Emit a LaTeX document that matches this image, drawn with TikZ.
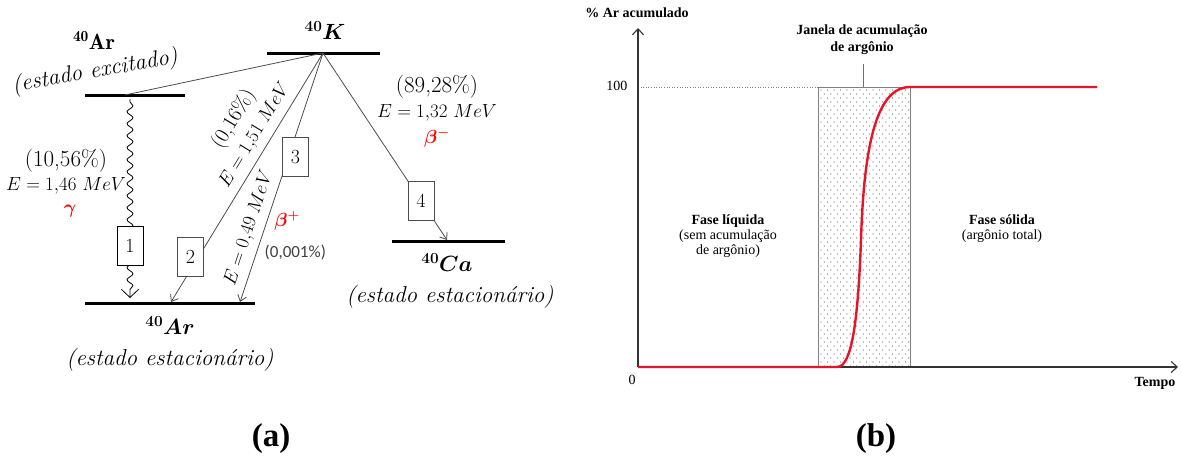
\documentclass[tikz,border=0pt]{standalone}
\usepackage{fix-cm}
\usepackage{fontspec}
\usepackage{amsmath}
\usetikzlibrary{arrows.meta, decorations.pathmorphing}
\newfontfamily\chartfont{Liberation Serif}
\newfontfamily\smallsans{Carlito}
\definecolor{curvered}{RGB}{230,20,40}
\definecolor{tickblue}{RGB}{68,114,196}

\begin{document}
\begin{tikzpicture}[x=1pt, y=-1pt, >={Straight Barb[length=6pt, width=9pt]}, line width=0.8pt,
  level/.style={line width=3pt},
  decay/.style={draw=black!70, ->},
  numbox/.style={draw, fill=white, line width=0.6pt, minimum width=26pt, minimum height=39pt,
    inner sep=0pt, font=\fontsize{20}{20}\selectfont},
  lbl/.style={font=\fontsize{19}{21}\selectfont},
  txt/.style={font=\fontsize{23}{25}\selectfont},
  big/.style={font=\fontsize{22}{24}\selectfont},
  chart/.style={font=\chartfont\fontsize{14}{15}\selectfont},
  chartb/.style={font=\chartfont\bfseries\fontsize{14}{17}\selectfont},
  axis/.style={draw=black!80, line width=1.1pt, -{Straight Barb[length=6pt, width=11pt]}}]
  \useasboundingbox (0,0) rectangle (1182,455);

  % (a) niveis de energia
  \draw[level] (85,95) -- (185,95);
  \draw[level] (267,53) -- (380,53);
  \draw[level] (85,303) -- (255,303);
  \draw[level] (392,241) -- (505,241);
  \coordinate (kv) at (323,53);
  \coordinate (arx) at (125,95);
  \coordinate (arw) at (130,99);
  \coordinate (t1) at (130,298);
  \coordinate (t2) at (171,302);
  \coordinate (t3) at (240,302);
  \coordinate (t4) at (447,240);

  \node[big] (arxlab) at (94,40) {$\mathbf{^{40}Ar}$};
  \node[txt, rotate=10] (arxest) at (95,72) {\textit{(estado excitado)}};
  \node[big] (klab) at (325,31) {$\boldsymbol{^{40}K}$};
  \node[big] (arlab) at (170,326) {$\boldsymbol{^{40}Ar}$};
  \node[txt] (arest) at (170,360) {\textit{(estado estacionário)}};
  \node[big] (calab) at (447,263) {$\boldsymbol{^{40}Ca}$};
  \node[txt] (caest) at (450,297) {\textit{(estado estacionário)}};

  % decaimentos
  \draw[decay, -] (kv) -- (arx);
  \draw[decorate, decoration={snake, amplitude=3pt, segment length=12pt, pre length=3pt, post length=7pt},
    -{Straight Barb[length=8pt, width=17pt]}] (arw) -- (t1) node[numbox, pos=0.74] (n1) {1};
  \draw[decay] (kv) -- (t2) node[numbox, pos=0.82, xshift=-8pt] (n2) {2};
  \draw[decay] (kv) -- (t3) node[numbox, pos=0.416, xshift=7pt] (n3) {3};
  \draw[decay] (kv) -- (t4) node[numbox, pos=0.79] (n4) {4};

  \node[txt] (p1) at (66,161) {(10,56\%)};
  \node[lbl] (e1) at (66,186) {$E = 1{,}46\ MeV$};
  \node[lbl, text=red] (g1) at (70,211) {$\boldsymbol{\gamma}$};
  \node[font=\fontsize{21}{23}\selectfont, rotate=58.6] (p2) at (234,119) {(0,16\%)};
  \node[lbl, rotate=58.6] (e2) at (255,135) {$E = 1{,}51\ MeV$};
  \node[lbl, rotate=71.6] (e3) at (249,228) {$E = 0{,}49\ MeV$};
  \node[lbl, text=red] (b3) at (287,221) {$\boldsymbol{\beta^{+}}$};
  \node[font=\smallsans\fontsize{17}{18}\selectfont, text=black!75, anchor=west] (p3) at (261,252) {(0,001\%)};
  \node[txt] (p4) at (437,87) {(89,28\%)};
  \node[lbl] (e4) at (437,113) {$E = 1{,}32\ MeV$};
  \node[lbl, text=red] (b4) at (437,138) {$\boldsymbol{\beta^{-}}$};
  \node[font=\chartfont\bfseries\fontsize{33}{35}\selectfont] (capa) at (271,439) {(a)};

  % (b) acumulacao de argonio
  \coordinate (o) at (638,367);
  \coordinate (ytop) at (638,28);
  \coordinate (xend) at (1178,367);
  \coordinate (y100) at (638,87);
  \foreach \i in {0,...,13}
    \foreach \j in {0,...,69}
      \fill[black!60] ({821+6.5*\i+mod(\j,2)*3.25}, {90+4*\j}) circle (0.6pt);
  \draw[black!50, line width=1pt] (818,87) rectangle (910,367);
  \draw[black!50, dotted, line width=0.6pt] (y100) -- (818,87);
  \draw[tickblue, line width=0.8pt] (863,64) -- (863,87);
  \draw[axis] (o) -- (ytop);
  \draw[axis] (o) -- (xend);
  \draw[curvered, line width=2.4pt] (o) -- (837,367) .. controls (852,367) and (858,320) .. (861,240)
    .. controls (864,140) and (878,87) .. (910,87) -- (1097,87);

  \node[chartb] (ylab) at (637,13) {\% Ar acumulado};
  \node[chart, anchor=east] (v100) at (631,86) {100};
  \node[chart] (v0) at (632,380) {0};
  \node[chartb] (xlab) at (1155,383) {Tempo};
  \node[chartb, align=center] (jan) at (862,40) {Janela de acumulação\\de argônio};
  \node[chart, align=center] (liq) at (728,236) {\textbf{Fase líquida}\\(sem acumulação\\de argônio)};
  \node[chart, align=center] (sol) at (1002,229) {\textbf{Fase sólida}\\(argônio total)};
  \node[font=\chartfont\bfseries\fontsize{33}{35}\selectfont] (capb) at (876,439) {(b)};
\end{tikzpicture}
\end{document}
